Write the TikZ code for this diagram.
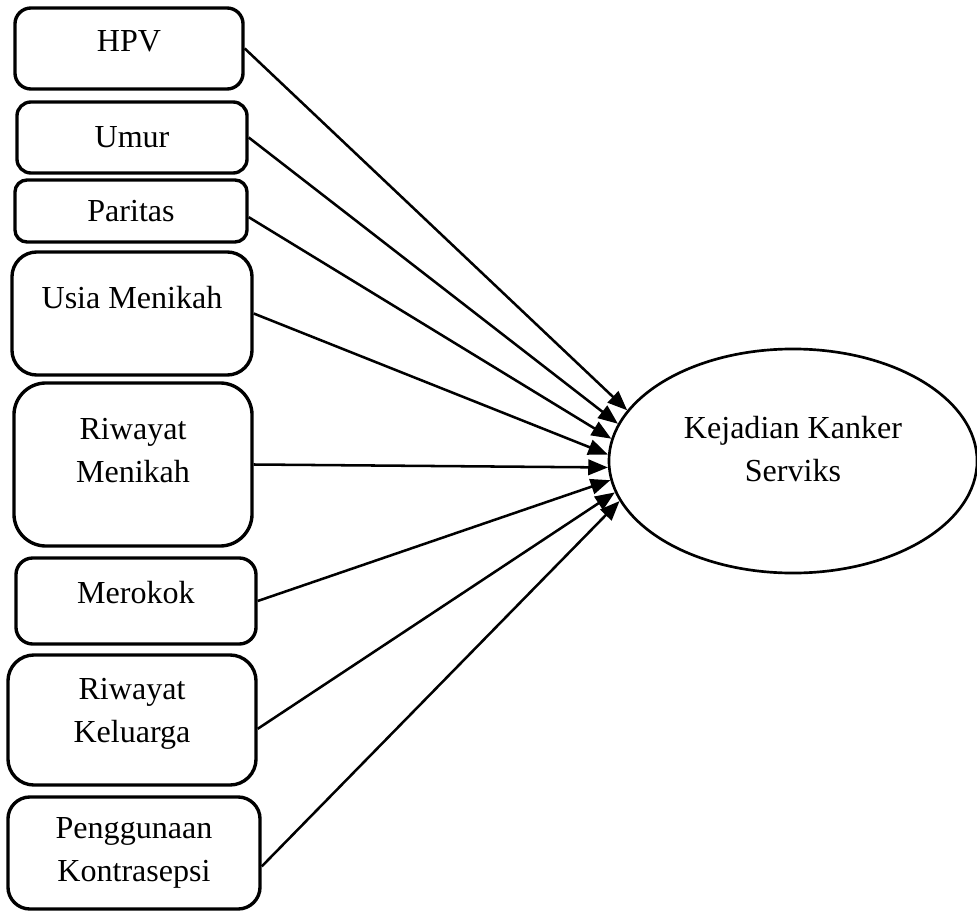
\documentclass[tikz,border=0pt]{standalone}
\usepackage{fontspec}
\setmainfont{Liberation Serif}
\usepackage{tikz}
\usetikzlibrary{arrows.meta, shapes.geometric}

\tikzset{
    varbox/.style={draw, line width=2.4pt, inner sep=0pt},
    arr/.style={line width=1.8pt, -{Triangle[length=14pt,width=11pt]}},
}

\begin{document}
\begin{tikzpicture}[x=0.025cm, y=-0.025cm, font=\fontsize{22.8}{30.6}\selectfont]
                \useasboundingbox (0,0) rectangle (977,911);

                % Draw factor boxes
                \node[varbox, rounded corners=0.4cm, minimum width=5.7cm, minimum height=2.025cm,
                      label={[yshift=0.18cm]center:HPV}] (hpv) at (129,48.5) {};
                \node[varbox, rounded corners=0.35cm, minimum width=5.75cm, minimum height=1.775cm,
                      label={center:Umur}] (umur) at (132,137.5) {};
                \node[varbox, rounded corners=0.3cm, minimum width=5.8cm, minimum height=1.55cm,
                      label={center:Paritas}] (paritas) at (131,211) {};
                \node[varbox, rounded corners=0.62cm, minimum width=6cm, minimum height=3.075cm,
                      label={[yshift=0.39cm]center:Usia Menikah}] (usia) at (132,313.5) {};
                \node[varbox, rounded corners=0.8cm, minimum width=5.95cm, minimum height=4.075cm,
                      label={[align=center, yshift=0.36cm]center:{Riwayat\\Menikah}}] (rm) at (133,464.5) {};
                \node[varbox, rounded corners=0.42cm, minimum width=6cm, minimum height=2.15cm,
                      label={[yshift=0.22cm]center:Merokok}] (merokok) at (136,601) {};
                \node[varbox, rounded corners=0.65cm, minimum width=6.2cm, minimum height=3.25cm,
                      label={[align=center, yshift=0.16cm]center:{Riwayat\\Keluarga}}] (keluarga) at (132,720) {};
                \node[varbox, rounded corners=0.55cm, minimum width=6.3cm, minimum height=2.8cm,
                      label={[align=center]center:{Penggunaan\\Kontrasepsi}}] (kontra) at (134,853) {};

                % Draw outcome ellipse
                \node[draw, ellipse, line width=1.9pt, inner sep=0pt, minimum width=9.2cm, minimum height=5.6cm,
                      label={[align=center, yshift=0.31cm]center:{Kejadian Kanker\\Serviks}}] (kks) at (793,461) {};

                % % Add arrows
                \foreach \n/\a/\b in {hpv/0/163, umur/0/168.3, paritas/-3/173.1, usia/0/178.1,
                                      rm/0/182.5, merokok/0/186.2, keluarga/-4/190.1, kontra/-6/193.3} {
                  \draw[arr] (\n.\a) -- (kks.\b);
                }
\end{tikzpicture}
\end{document}
